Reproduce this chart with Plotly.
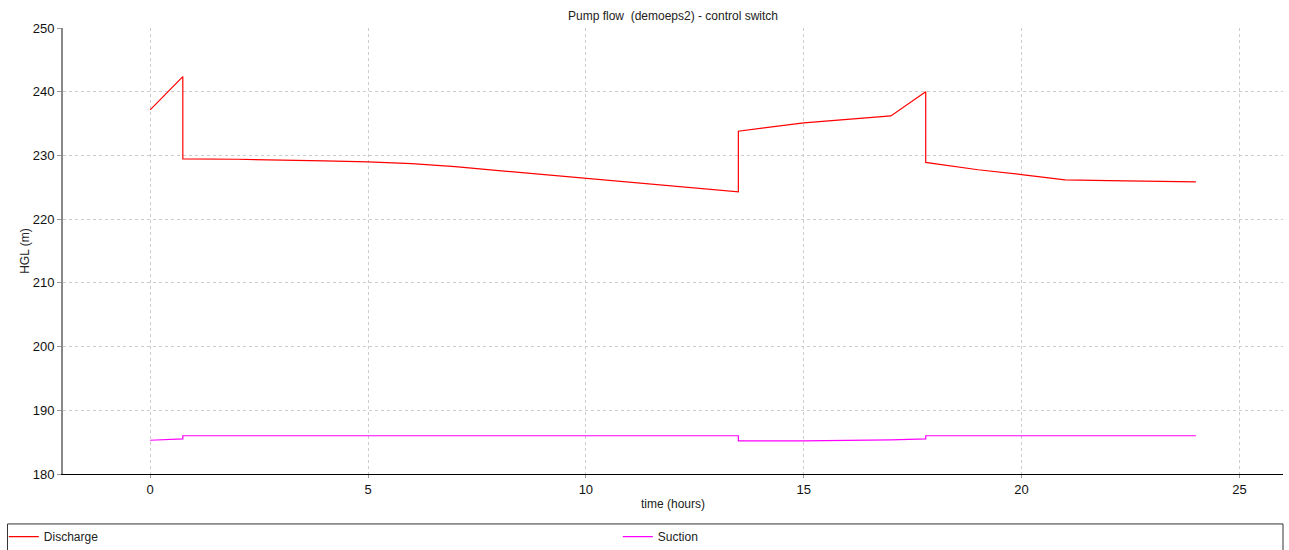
import plotly.graph_objects as go

# Hydraulic grade line at the pump over the 24-hour run
time_discharge = [0, 0.75, 0.75, 2, 4, 5, 6, 7, 8, 9, 10, 11, 12, 13, 13.5, 13.5,
                  15, 17, 17.8, 17.8, 19, 20, 21, 22, 23, 24]
hgl_discharge = [237.15, 242.38, 229.45, 229.4, 229.15, 229.0, 228.7, 228.25, 227.63,
                 227.02, 226.4, 225.8, 225.2, 224.6, 224.3, 233.8, 235.1, 236.2, 240.0,
                 228.9, 227.75, 227.0, 226.15, 226.05, 225.95, 225.85]

time_suction = [0, 0.75, 0.75, 13.5, 13.5, 15, 17, 17.8, 17.8, 24]
hgl_suction = [185.3, 185.5, 186.0, 186.0, 185.2, 185.2, 185.35, 185.5, 186.0, 186.0]

x_ticks = [0, 5, 10, 15, 20, 25]
y_ticks = [180, 190, 200, 210, 220, 230, 240, 250]

FONT = "Liberation Sans, Arial, sans-serif"

fig = go.Figure()
fig.add_trace(go.Scatter(x=time_discharge, y=hgl_discharge, mode="lines",
                         name="Discharge", line=dict(color="#ff0000", width=1.2)))
fig.add_trace(go.Scatter(x=time_suction, y=hgl_suction, mode="lines",
                         name="Suction", line=dict(color="#ff00ff", width=1.2)))

# Frame around the legend row
fig.add_shape(type="rect", xref="paper", yref="paper",
              x0=-0.0455, x1=1.0, y0=-0.112, y1=-0.2,
              line=dict(color="#333333", width=1), fillcolor="white", layer="below")

fig.update_layout(
    width=1289, height=550,
    margin=dict(l=63, r=6, t=28, b=76, autoexpand=False),
    paper_bgcolor="white", plot_bgcolor="white",
    font=dict(family=FONT, size=12, color="#222222"),
    title=dict(text="Pump flow  (demoeps2) - control switch", x=0.5, xref="paper",
               y=1, yref="container", yanchor="top", pad=dict(t=12),
               font=dict(size=12, family=FONT, color="#222222")),
    showlegend=True,
    legend=dict(orientation="h", x=-0.0485, xanchor="left", y=-0.108, yanchor="top",
                entrywidth=569, entrywidthmode="pixels", itemwidth=30,
                font=dict(size=12, family=FONT, color="#222222"),
                bgcolor="rgba(0,0,0,0)", tracegroupgap=0),
    xaxis=dict(range=[-2, 26], tickvals=x_ticks, ticks="outside", ticklen=3,
               tickcolor="#999999", showline=True, linecolor="#000000", linewidth=1,
               showgrid=True, gridcolor="#cccccc", griddash="dot", gridwidth=1,
               zeroline=False, tickfont=dict(size=13, family=FONT, color="#111111"),
               title=dict(text="time (hours)", standoff=4,
                          font=dict(size=12, family=FONT, color="#222222"))),
    yaxis=dict(range=[180, 250], tickvals=y_ticks, ticks="outside", ticklen=4,
               tickcolor="#999999", showline=True, linecolor="#888888", linewidth=2,
               showgrid=True, gridcolor="#cccccc", griddash="dot", gridwidth=1,
               zeroline=False, tickfont=dict(size=13, family=FONT, color="#111111"),
               title=dict(text="HGL (m)", standoff=0,
                          font=dict(size=12, family=FONT, color="#222222"))),
)

fig.write_html("out.html")
